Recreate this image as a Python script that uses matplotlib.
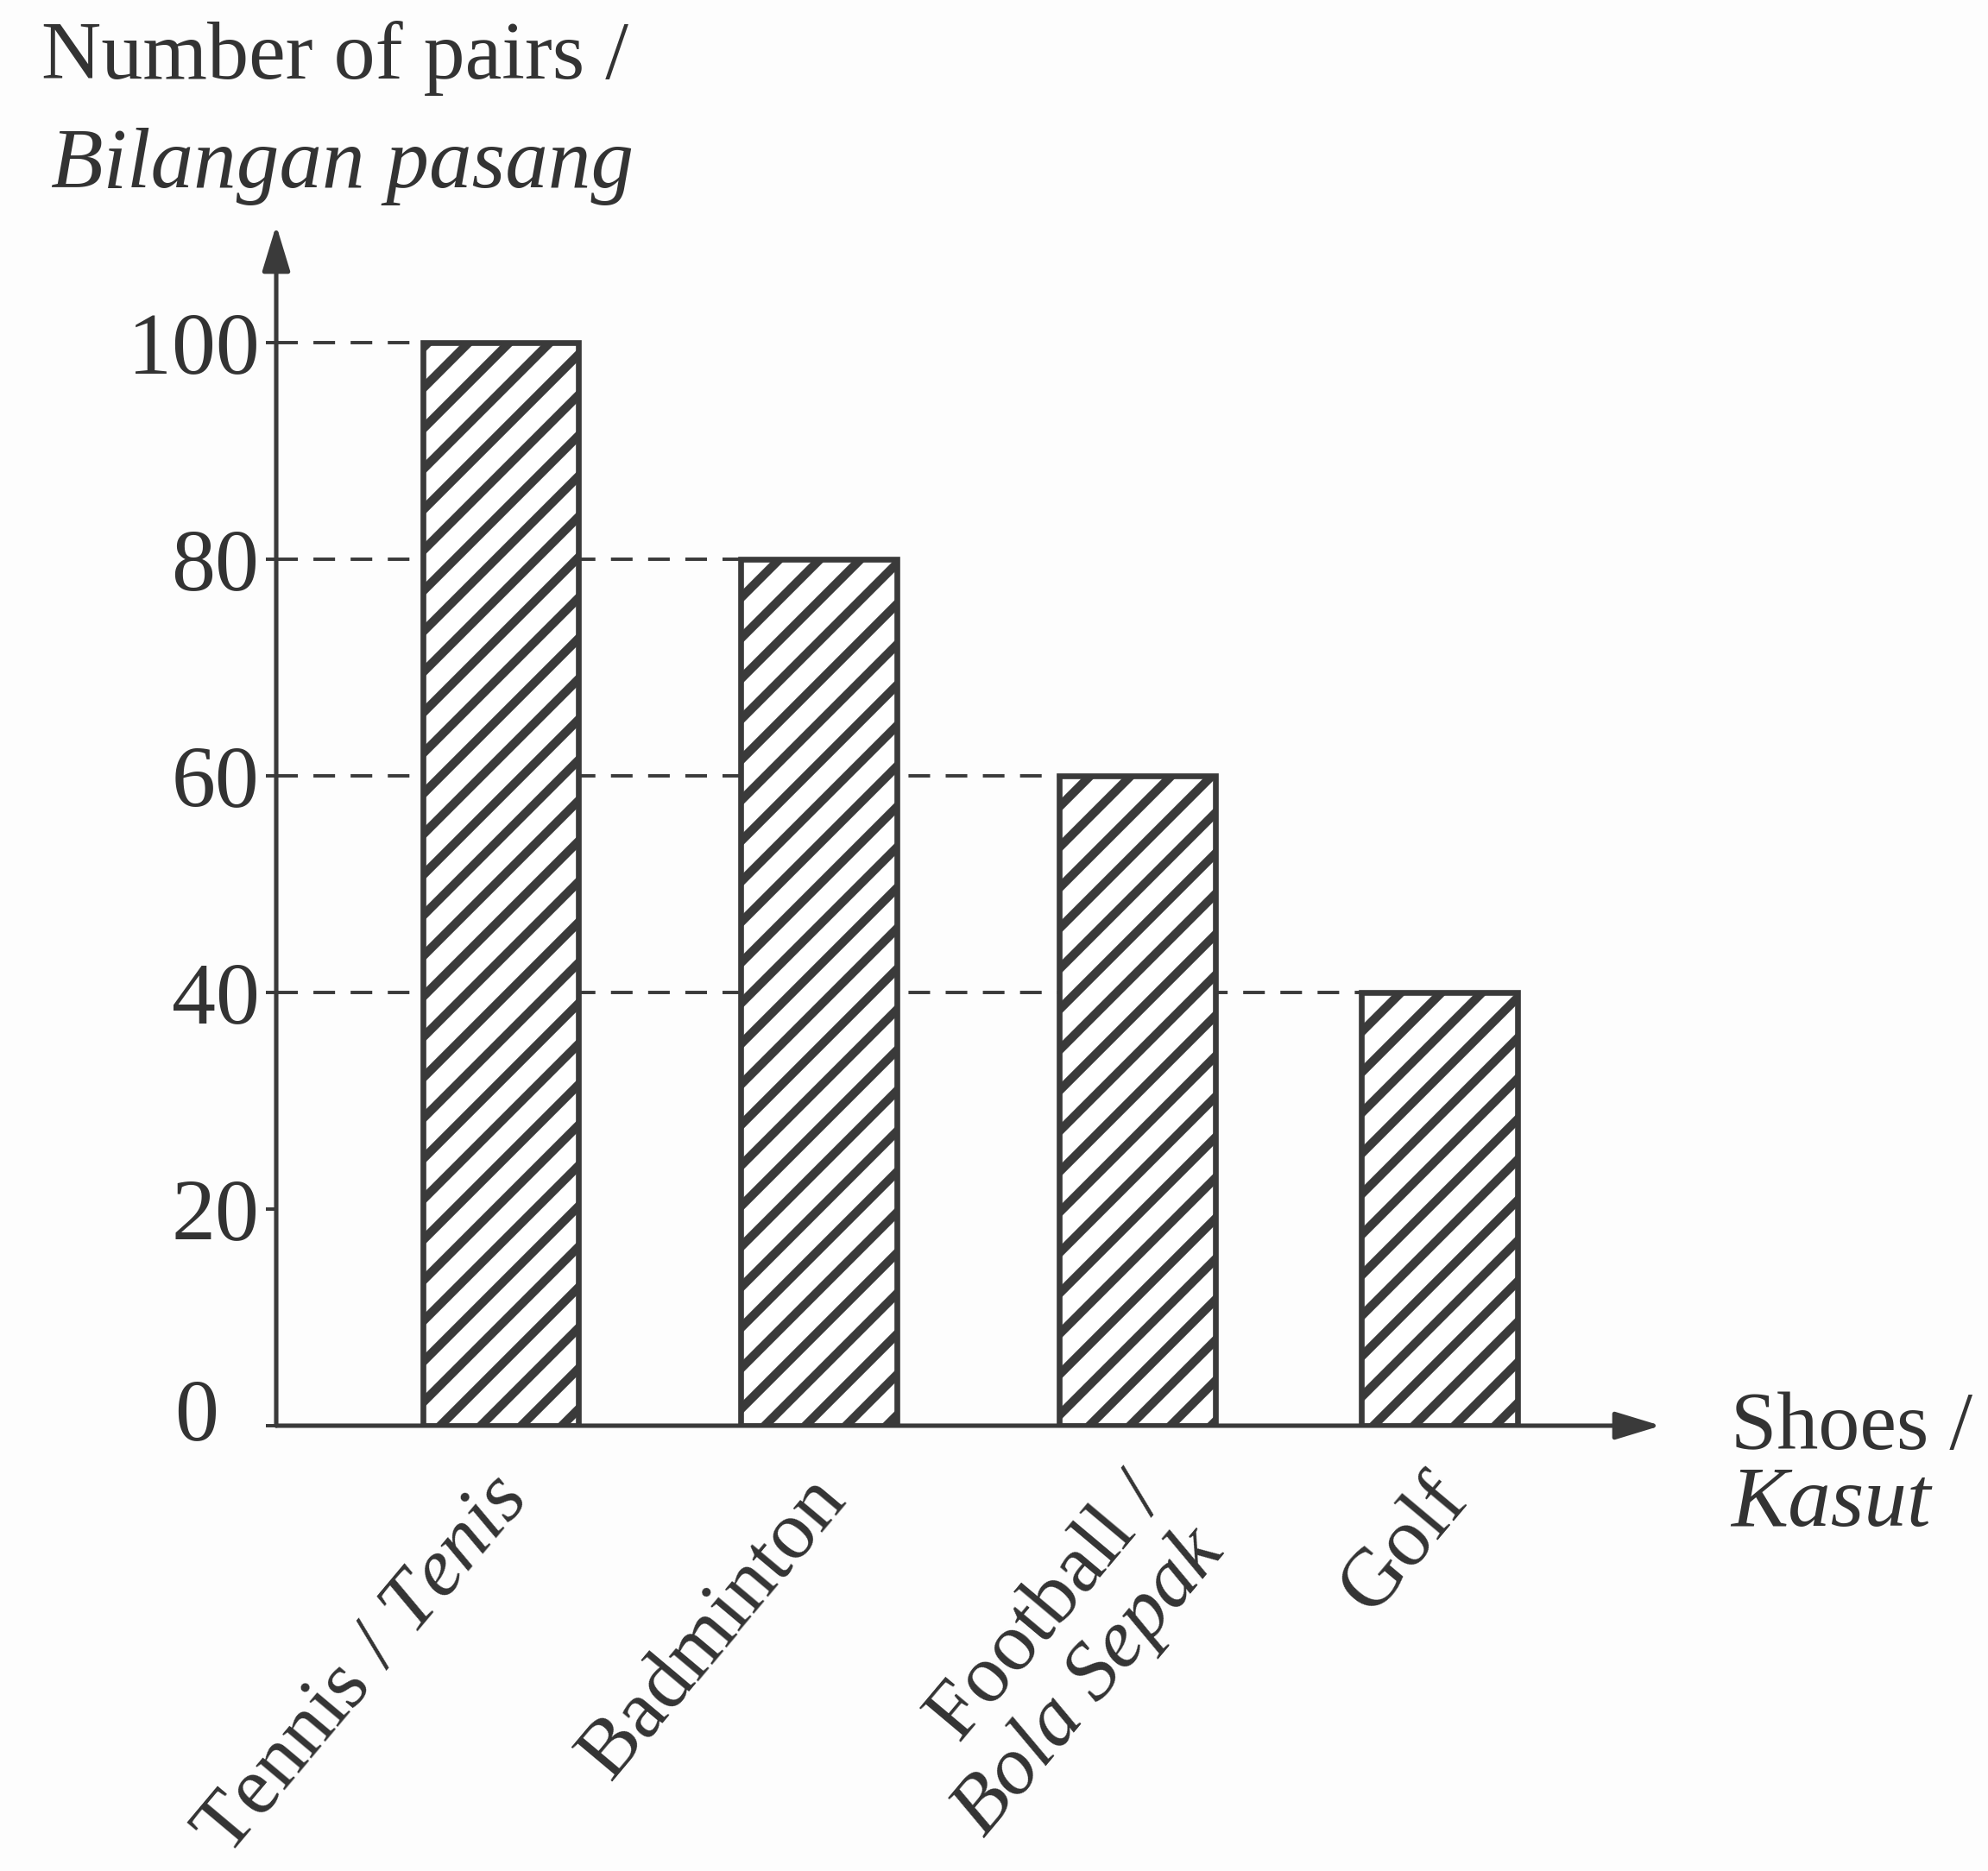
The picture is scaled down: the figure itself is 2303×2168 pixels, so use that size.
import matplotlib
matplotlib.use("Agg")
import matplotlib.pyplot as plt
import matplotlib.transforms as mtransforms

# ---------------- data ----------------
categories = ["Tennis / $\\it{Tenis}$", "Badminton",
              "Football /\n$\\it{Bola\\ Sepak}$", "Golf"]
values = [100, 80, 60, 40]
positions = [1.0, 2.0, 3.0, 3.95]
yticks = [0, 20, 40, 60, 80, 100]
ytick_labels = ["0", "20", "40", "60", "80", "100"]

# ---------------- style ----------------
DPI = 282
W, H = 2303, 2168
ink = "#333333"
line_ink = "#3a3a3a"

plt.rcParams["font.family"] = ["Liberation Serif", "DejaVu Serif"]
plt.rcParams["mathtext.fontset"] = "custom"
plt.rcParams["mathtext.rm"] = "Liberation Serif"
plt.rcParams["mathtext.it"] = "Liberation Serif:italic"
plt.rcParams["hatch.linewidth"] = 2.6
plt.rcParams["hatch.color"] = line_ink

fig = plt.figure(figsize=(W / DPI, H / DPI), dpi=DPI)
fig.patch.set_facecolor("#fdfdfd")

ax = fig.add_axes([320 / W, 516 / H, (1924 - 320) / W, (1652 - 261) / H])
ax.set_facecolor("none")
xlim = (0.295, 4.645)
ax.set_xlim(*xlim)
ax.set_ylim(0, 110.8)
for s in ax.spines.values():
    s.set_visible(False)

bar_w = 0.49
ax.bar(positions, values, width=bar_w, facecolor="white", edgecolor=line_ink,
       hatch="//", linewidth=1.7, zorder=3)

# dashed guide lines from the axis to each bar
for v, p in zip(values, positions):
    ax.hlines(v, xlim[0], p - bar_w / 2, colors=line_ink, linewidth=1.0,
              linestyles=(0, (6.4, 4.6)), zorder=2)

# axes with arrows
arrow_kw = dict(arrowstyle="-|>,head_length=1.15,head_width=0.35",
                color=line_ink, lw=1.3, shrinkA=0, shrinkB=0, mutation_scale=10)
ax.annotate("", xy=(0, 1), xytext=(0, 0), xycoords="axes fraction",
            textcoords="axes fraction", arrowprops=arrow_kw, zorder=5)
ax.annotate("", xy=(1, 0), xytext=(0, 0), xycoords="axes fraction",
            textcoords="axes fraction", arrowprops=arrow_kw, zorder=5)

# y ticks
ax.set_yticks(yticks)
ax.set_yticklabels(ytick_labels)
ax.tick_params(axis="y", length=3, width=1.0, color=line_ink, pad=2,
               labelsize=26, labelcolor=ink, direction="out")
ax.set_xticks([])
lab0 = ax.get_yticklabels()[0]
lab0.set_transform(lab0.get_transform() +
                   mtransforms.ScaledTranslation(-12 / 72, 5 / 72, fig.dpi_scale_trans))

# category labels, rotated
for lab, p in zip(categories, positions):
    tr = ax.get_xaxis_transform() + mtransforms.ScaledTranslation(
        -4.5 / 72, -11 / 72, fig.dpi_scale_trans)
    ax.text(p, 0, lab, transform=tr, rotation=50, rotation_mode="anchor",
            ha="right", va="top", fontsize=24.5, color=ink, linespacing=1.05)

# axis titles
fig.text(48 / W, 1 - 91 / H, "Number of pairs /", ha="left", va="baseline",
         fontsize=24.5, color=ink)
fig.text(59 / W, 1 - 217 / H, "Bilangan pasang", ha="left", va="baseline",
         fontsize=25.3, color=ink, style="italic")
fig.text(2005 / W, 1 - 1679 / H, "Shoes /", ha="left", va="baseline",
         fontsize=24.5, color=ink)
fig.text(2005 / W, 1 - 1768 / H, "Kasut", ha="left", va="baseline",
         fontsize=25.3, color=ink, style="italic")

fig.savefig("out.png", dpi=DPI, facecolor=fig.get_facecolor())
